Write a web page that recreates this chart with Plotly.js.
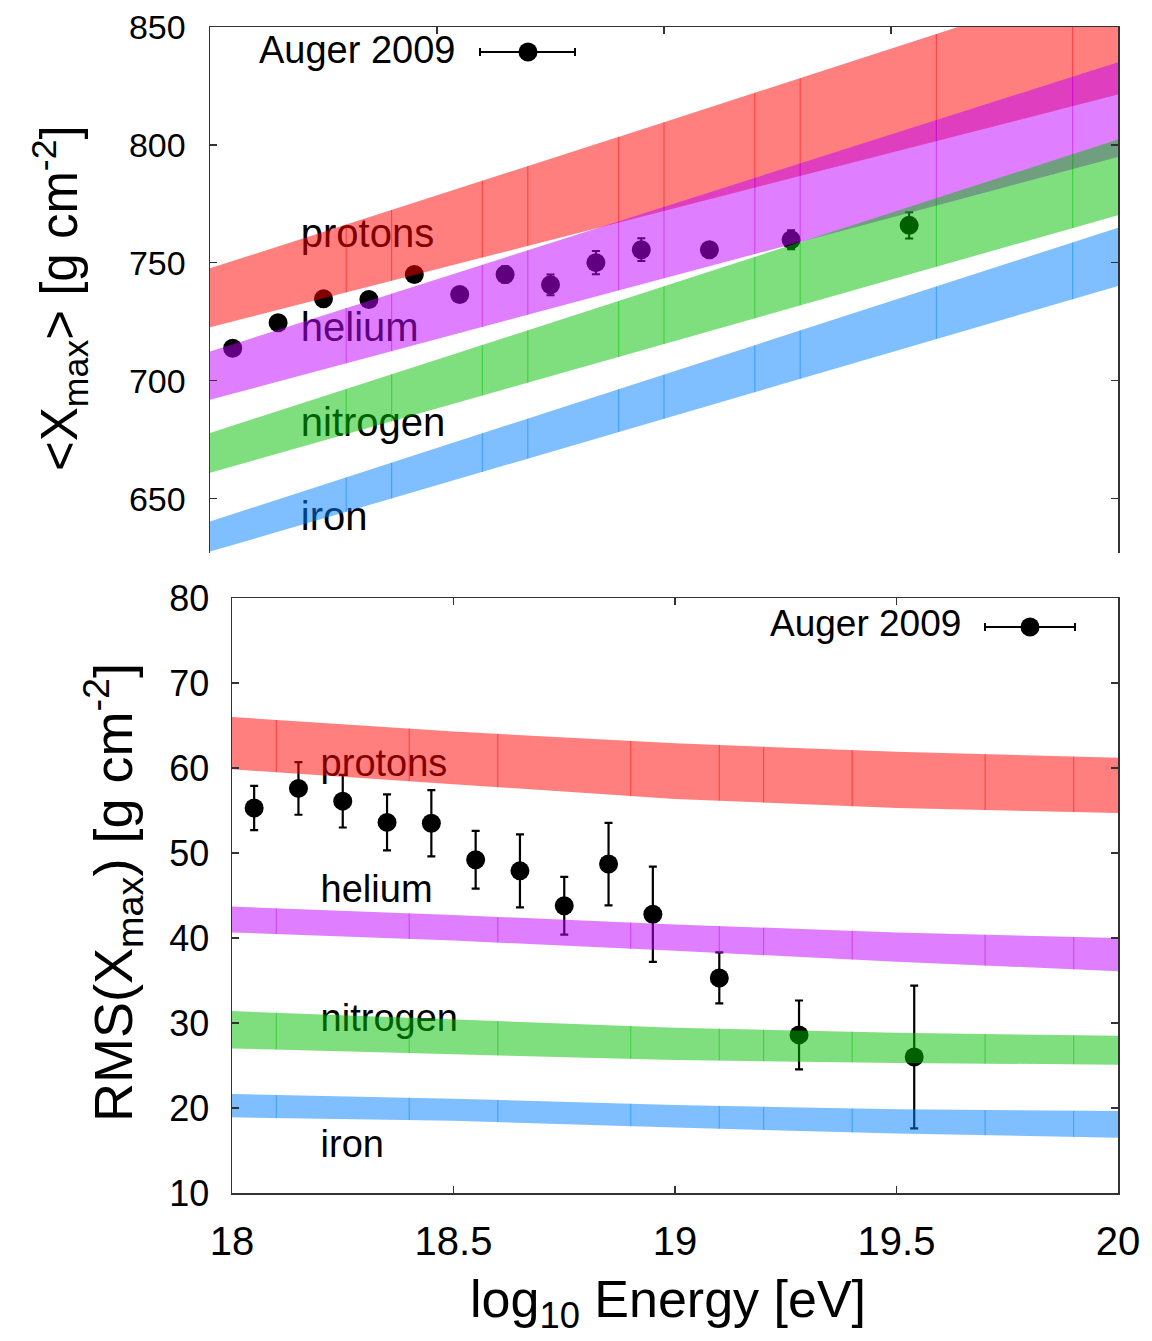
<!DOCTYPE html>
<html><head><meta charset="utf-8">
<script src="https://cdn.plot.ly/plotly-3.0.1.min.js"></script>
<style>html,body{margin:0;padding:0;background:#fff}#chart{width:1152px;height:1341px}</style>
</head><body><div id="chart"></div>
<script>
// ---------------- data ----------------
const energy = [18.05, 18.15, 18.25, 18.35, 18.45, 18.55, 18.65, 18.75, 18.85, 18.95, 19.10, 19.28, 19.54];
const xmaxMean = [713.8, 724.6, 734.8, 734.5, 745.1, 736.6, 745.1, 740.7, 750.1, 755.6, 755.6, 759.8, 765.9];
const xmaxMeanErr = [2.5, 2.5, 2.5, 2.5, 2.5, 2.5, 3.5, 4.4, 4.9, 4.8, 2.5, 4.0, 5.6];
const xmaxRms = [55.3, 57.6, 56.1, 53.6, 53.5, 49.2, 47.9, 43.8, 48.7, 42.8, 35.3, 28.6, 26.0];
const xmaxRmsErr = [2.6, 3.1, 3.1, 3.3, 3.9, 3.4, 4.3, 3.4, 4.85, 5.6, 3.0, 4.05, 8.4];

const meanBandE = [18.0, 19.0, 20.0];
const protonMeanHi = [747.7, 809.6, 872.0];
const protonMeanLo = [722.7, 772.0, 821.4];
const heliumMeanHi = [712.4, 773.8, 835.1];
const heliumMeanLo = [692.0, 743.5, 794.9];
const nitrogenMeanHi = [677.9, 740.1, 802.3];
const nitrogenMeanLo = [661.0, 715.6, 770.2];
const ironMeanHi = [640.4, 702.6, 764.9];
const ironMeanLo = [627.6, 683.9, 740.2];

const rmsBandE = [18.0, 18.5, 19.0, 19.5, 20.0];
const protonRmsHi = [66.0, 64.3, 62.9, 61.9, 61.2];
const protonRmsLo = [59.85, 58.1, 56.35, 55.3, 54.7];
const heliumRmsHi = [43.7, 42.7, 41.6, 40.65, 40.0];
const heliumRmsLo = [40.65, 39.7, 38.5, 37.2, 36.1];
const nitrogenRmsHi = [31.4, 30.4, 29.45, 28.85, 28.5];
const nitrogenRmsLo = [27.0, 26.35, 25.65, 25.3, 25.1];
const ironRmsHi = [21.65, 21.1, 20.35, 19.85, 19.65];
const ironRmsLo = [18.9, 18.5, 17.7, 17.0, 16.5];

const meanSeamE = [18.3, 18.4, 18.6, 18.7, 18.9, 19.0, 19.2, 19.3, 19.6, 19.9];
const rmsSeamE = [18.1, 18.4, 18.6, 18.9, 19.1, 19.2, 19.4, 19.7, 19.9];

const speciesNames = ['protons', 'helium', 'nitrogen', 'iron'];
const xTickVals = [18, 18.5, 19, 19.5, 20];
const xTickText = ['18', '18.5', '19', '19.5', '20'];
const meanTickVals = [650, 700, 750, 800, 850];
const rmsTickVals = [10, 20, 30, 40, 50, 60, 70, 80];
const legendText = 'Auger 2009';

// ---------------- styling / placement ----------------
const W = 1152, H = 1341;
const FONT = 'Liberation Sans, Arial, Helvetica, sans-serif';
const fills = ['rgba(255,0,0,0.5)', 'rgba(192,0,255,0.5)', 'rgba(0,192,0,0.5)', 'rgba(0,128,255,0.5)'];
const seams = ['rgba(255,0,0,0.45)', 'rgba(192,0,255,0.45)', 'rgba(0,192,0,0.45)', 'rgba(0,128,255,0.45)'];
const labelCfg = { e: 18.2, meanY: [760.8, 721.3, 681.0, 641.1], rmsY: [60.2, 45.4, 30.2, 15.3] };
const px = v => v / W;
const py = v => 1 - v / H;

function interp(xs, ys, x) {
  for (let i = 0; i < xs.length - 1; i++) {
    if (x >= xs[i] && x <= xs[i + 1]) {
      const t = (x - xs[i]) / (xs[i + 1] - xs[i]);
      return ys[i] + t * (ys[i + 1] - ys[i]);
    }
  }
  return ys[ys.length - 1];
}

function band(E, hi, lo, idx, xa, ya) {
  return {
    type: 'scatter', mode: 'lines', xaxis: xa, yaxis: ya,
    x: E.concat(E.slice().reverse()),
    y: hi.concat(lo.slice().reverse()),
    fill: 'toself', fillcolor: fills[idx],
    line: { width: 0, color: fills[idx] },
    hoverinfo: 'skip', showlegend: false
  };
}
function seamTrace(E, hi, lo, seamE, idx, xa, ya) {
  const xs = [], ys = [];
  seamE.forEach(e => { xs.push(e, e, null); ys.push(interp(E, lo, e), interp(E, hi, e), null); });
  return {
    type: 'scatter', mode: 'lines', xaxis: xa, yaxis: ya, x: xs, y: ys,
    line: { width: 1.2, color: seams[idx] }, hoverinfo: 'skip', showlegend: false
  };
}

const meanBands = [[protonMeanHi, protonMeanLo], [heliumMeanHi, heliumMeanLo], [nitrogenMeanHi, nitrogenMeanLo], [ironMeanHi, ironMeanLo]];
const rmsBands = [[protonRmsHi, protonRmsLo], [heliumRmsHi, heliumRmsLo], [nitrogenRmsHi, nitrogenRmsLo], [ironRmsHi, ironRmsLo]];

const traces = [];
// data points (drawn first so the translucent bands tint them)
traces.push({
  type: 'scatter', mode: 'markers', xaxis: 'x2', yaxis: 'y2',
  x: energy, y: xmaxMean,
  error_y: { type: 'data', array: xmaxMeanErr, color: '#000', thickness: 2, width: 4 },
  marker: { color: '#000', size: 19 }, showlegend: false
});
traces.push({
  type: 'scatter', mode: 'markers', xaxis: 'x', yaxis: 'y',
  x: energy, y: xmaxRms,
  error_y: { type: 'data', array: xmaxRmsErr, color: '#000', thickness: 2.2, width: 4 },
  marker: { color: '#000', size: 19 }, showlegend: false
});
// species labels (also under bands)
traces.push({
  type: 'scatter', mode: 'text', xaxis: 'x2', yaxis: 'y2',
  x: speciesNames.map(() => labelCfg.e), y: labelCfg.meanY, text: speciesNames,
  textposition: 'middle right', textfont: { family: FONT, size: 40, color: '#000' },
  hoverinfo: 'skip', showlegend: false, cliponaxis: false
});
traces.push({
  type: 'scatter', mode: 'text', xaxis: 'x', yaxis: 'y',
  x: speciesNames.map(() => labelCfg.e), y: labelCfg.rmsY, text: speciesNames,
  textposition: 'middle right', textfont: { family: FONT, size: 38, color: '#000' },
  hoverinfo: 'skip', showlegend: false, cliponaxis: false
});
meanBands.forEach((b, i) => {
  traces.push(band(meanBandE, b[0], b[1], i, 'x2', 'y2'));
  traces.push(seamTrace(meanBandE, b[0], b[1], meanSeamE, i, 'x2', 'y2'));
});
rmsBands.forEach((b, i) => {
  traces.push(band(rmsBandE, b[0], b[1], i, 'x', 'y'));
  traces.push(seamTrace(rmsBandE, b[0], b[1], rmsSeamE, i, 'x', 'y'));
});

const axLine = { showline: true, linecolor: '#333', linewidth: 1.5, ticks: 'inside', ticklen: 7, tickcolor: '#333', tickwidth: 1.2, showgrid: false, zeroline: false };

function legendShapes(x0, x1, xc, yc) {
  const s = [];
  s.push({ type: 'line', xref: 'paper', yref: 'paper', x0: px(x0), x1: px(x1), y0: py(yc), y1: py(yc), line: { color: '#000', width: 2 } });
  s.push({ type: 'line', xref: 'paper', yref: 'paper', x0: px(x0), x1: px(x0), y0: py(yc - 4), y1: py(yc + 4), line: { color: '#000', width: 2 } });
  s.push({ type: 'line', xref: 'paper', yref: 'paper', x0: px(x1), x1: px(x1), y0: py(yc - 4), y1: py(yc + 4), line: { color: '#000', width: 2 } });
  s.push({ type: 'circle', xref: 'paper', yref: 'paper', x0: px(xc - 9.5), x1: px(xc + 9.5), y0: py(yc + 9.5), y1: py(yc - 9.5), fillcolor: '#000', line: { color: '#000', width: 0 } });
  return s;
}

const layout = {
  width: W, height: H, margin: { l: 0, r: 0, t: 0, b: 0 },
  paper_bgcolor: '#fff', plot_bgcolor: '#fff', showlegend: false,
  font: { family: FONT, color: '#000' },
  xaxis: Object.assign({}, axLine, {
    domain: [px(232), px(1118)], anchor: 'y', range: [18, 20],
    tickvals: xTickVals, ticktext: xTickText, mirror: 'ticks',
    tickfont: { family: FONT, size: 40, color: '#000' }, ticklabelstandoff: 12
  }),
  yaxis: Object.assign({}, axLine, {
    domain: [py(1193), py(598)], anchor: 'x', range: [10, 80],
    tickvals: rmsTickVals, mirror: 'ticks',
    tickfont: { family: FONT, size: 36, color: '#000' }, ticklabelstandoff: 14
  }),
  xaxis2: Object.assign({}, axLine, {
    domain: [px(210), px(1118)], anchor: 'y2', side: 'top', range: [18, 20],
    tickvals: xTickVals, showticklabels: false, mirror: false
  }),
  yaxis2: Object.assign({}, axLine, {
    domain: [py(553), py(27)], anchor: 'x2', range: [627, 850],
    tickvals: meanTickVals, mirror: 'ticks',
    tickfont: { family: FONT, size: 34, color: '#000' }, ticklabelstandoff: 16
  }),
  annotations: [
    { xref: 'paper', yref: 'paper', x: px(60), y: py(298), text: '&lt;X<sub>max</sub>&gt; [g cm<sup>-2</sup>]', textangle: -90, showarrow: false, xanchor: 'center', yanchor: 'middle', font: { family: FONT, size: 51, color: '#000' } },
    { xref: 'paper', yref: 'paper', x: px(113), y: py(893), text: 'RMS(X<sub>max</sub>) [g cm<sup>-2</sup>]', textangle: -90, showarrow: false, xanchor: 'center', yanchor: 'middle', font: { family: FONT, size: 54, color: '#000' } },
    { xref: 'paper', yref: 'paper', x: px(668), y: py(1303), text: 'log<sub>10</sub> Energy [eV]', showarrow: false, xanchor: 'center', yanchor: 'middle', font: { family: FONT, size: 52, color: '#000' } },
    { xref: 'paper', yref: 'paper', x: px(458), y: py(50), text: legendText, showarrow: false, xanchor: 'right', yanchor: 'middle', font: { family: FONT, size: 38, color: '#000' } },
    { xref: 'paper', yref: 'paper', x: px(963), y: py(624), text: legendText, showarrow: false, xanchor: 'right', yanchor: 'middle', font: { family: FONT, size: 37, color: '#000' } }
  ],
  shapes: legendShapes(480, 575, 528, 52).concat(legendShapes(985, 1075, 1030, 627))
};

Plotly.newPlot('chart', traces, layout, { staticPlot: true, displayModeBar: false });
</script>
</body></html>
